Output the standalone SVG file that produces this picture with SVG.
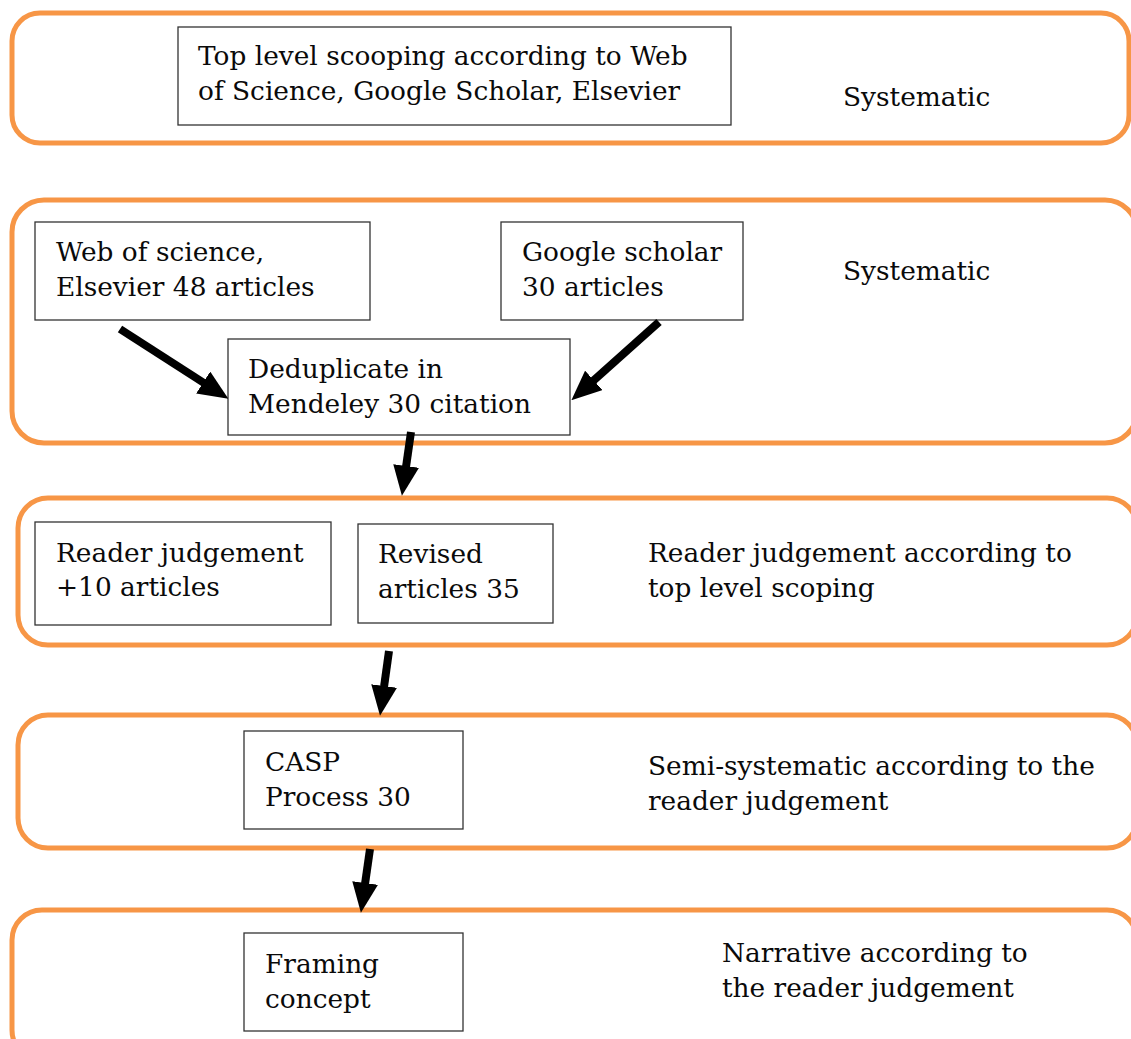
<svg xmlns="http://www.w3.org/2000/svg" width="1131" height="1039" viewBox="0 0 1131 1039">
<style>
.band{fill:#fff;stroke:#F79646;stroke-width:5}
.box{fill:#fff;stroke:#333;stroke-width:1.3}
text{font-family:"DejaVu Serif","Liberation Serif",serif;font-size:26.4px;fill:#0a0a0a}
.conn{stroke:#000;stroke-width:8;fill:none;marker-end:url(#ah)}
</style>
<defs>
<marker id="ah" markerUnits="userSpaceOnUse" markerWidth="30" markerHeight="26" viewBox="0 0 30 26" refX="1" refY="13" orient="auto">
<path d="M0,0 L30,13 L0,26 z" fill="#000"/>
</marker>
</defs>
<g id="bands">
<rect id="band1" class="band" x="12" y="13" width="1117" height="130" rx="28"/>
<rect id="band2" class="band" x="12" y="200" width="1125" height="243" rx="32"/>
<rect id="band3" class="band" x="18" y="498" width="1119" height="147" rx="30"/>
<rect id="band4" class="band" x="18" y="715" width="1119" height="133" rx="30"/>
<rect id="band5" class="band" x="12" y="910" width="1125" height="150" rx="30"/>
</g>
<g id="band-labels">
<text x="843" y="106">Systematic</text>
<text x="843" y="280">Systematic</text>
<text x="648" y="562">Reader judgement according to</text>
<text x="648" y="597">top level scoping</text>
<text x="648" y="775">Semi-systematic according to the</text>
<text x="648" y="810">reader judgement</text>
<text x="722" y="962">Narrative according to</text>
<text x="722" y="997">the reader judgement</text>
</g>
<g id="n1"><rect class="box" x="178" y="27" width="553" height="98"/><text x="198" y="65">Top level scooping according to Web</text><text x="198" y="100">of Science, Google Scholar, Elsevier</text></g>
<g id="n2"><rect class="box" x="35" y="222" width="335" height="98"/><text x="56" y="261">Web of science,</text><text x="56" y="296">Elsevier 48 articles</text></g>
<g id="n3"><rect class="box" x="501" y="222" width="242" height="98"/><text x="522" y="261">Google scholar</text><text x="522" y="296">30 articles</text></g>
<g id="n4"><rect class="box" x="228" y="339" width="342" height="96"/><text x="248" y="378">Deduplicate in</text><text x="248" y="413">Mendeley 30 citation</text></g>
<g id="n5"><rect class="box" x="35" y="522" width="296" height="103"/><text x="56" y="562">Reader judgement</text><text x="56" y="596">+10 articles</text></g>
<g id="n6"><rect class="box" x="358" y="524" width="195" height="99"/><text x="378" y="563">Revised</text><text x="378" y="598">articles 35</text></g>
<g id="n7"><rect class="box" x="244" y="731" width="219" height="98"/><text x="265" y="771">CASP</text><text x="265" y="806">Process 30</text></g>
<g id="n8"><rect class="box" x="244" y="933" width="219" height="98"/><text x="265" y="973">Framing</text><text x="265" y="1008">concept</text></g>
<g id="connectors">
<path class="conn" d="M120,329 L204,383"/>
<path class="conn" d="M659,322 L593,381"/>
<path class="conn" d="M411,432 L406,467"/>
<path class="conn" d="M389,651 L384,687"/>
<path class="conn" d="M370,849 L365,884"/>
</g>
</svg>
